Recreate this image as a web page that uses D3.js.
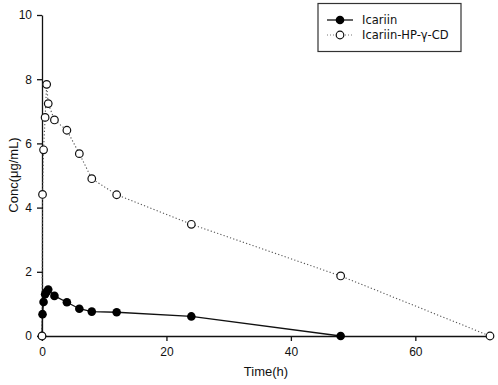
<!DOCTYPE html>
<html lang="en">
<head>
  <meta charset="UTF-8">
  <title>Icariin concentration-time</title>
  <script src="https://d3js.org/d3.v7.min.js"></script>
  <style>
    body { margin: 0; background: white; }
    svg { display: block; font-family: 'Liberation Sans', Arial, sans-serif; }
  </style>
</head>
<body>
  <svg id="chart" width="498" height="385"></svg>
  <script>
    // data
    var timeIcariin = [0, 0.083, 0.25, 0.5, 0.75, 1, 2, 4, 6, 8, 12, 24, 48];
    var concIcariin = [0, 0.68, 1.06, 1.30, 1.38, 1.45, 1.25, 1.05, 0.85, 0.76, 0.74, 0.61, 0];
    var timeCD = [0, 0.083, 0.25, 0.5, 0.75, 1, 2, 4, 6, 8, 12, 24, 48, 72];
    var concCD = [0, 4.41, 5.80, 6.81, 7.84, 7.24, 6.73, 6.41, 5.68, 4.90, 4.40, 3.48, 1.87, 0];
    var xTicks = [0, 20, 40, 60];
    var yTicks = [0, 2, 4, 6, 8, 10];
    var seriesNames = ["Icariin", "Icariin-HP-\u03b3-CD"];

    var svg = d3.select("#chart");
    var x = d3.scaleLinear().domain([0, 72]).range([42, 490]);
    var y = d3.scaleLinear().domain([0, 10]).range([336, 15]);

    // axes
    var xAxis = svg.append("g").attr("transform", "translate(0,336)")
      .call(d3.axisBottom(x).tickValues(xTicks).tickSize(5).tickSizeOuter(0).tickPadding(6));
    var yAxis = svg.append("g").attr("transform", "translate(42,0)")
      .call(d3.axisLeft(y).tickValues(yTicks).tickSize(5).tickSizeOuter(0).tickPadding(5));
    [xAxis, yAxis].forEach(function(a) {
      a.selectAll("path, line").attr("stroke", "#111").attr("stroke-width", 1.3);
      a.selectAll("text").attr("font-size", 12).attr("fill", "#111")
        .attr("font-family", "'Liberation Sans', Arial, sans-serif");
    });

    svg.append("text").attr("x", 266).attr("y", 376).attr("text-anchor", "middle")
      .attr("font-size", 13).attr("fill", "#111").text("Time(h)");
    svg.append("text").attr("transform", "translate(18,175) rotate(-90)")
      .attr("text-anchor", "middle").attr("font-size", 13).attr("fill", "#111")
      .text("Conc(\u03bcg/mL)");

    var line = d3.line().x(function(d) { return x(d[0]); }).y(function(d) { return y(d[1]); });
    var dataA = d3.zip(timeIcariin, concIcariin);
    var dataB = d3.zip(timeCD, concCD);

    svg.append("path").datum(dataB).attr("d", line).attr("fill", "none")
      .attr("stroke", "#555").attr("stroke-width", 1.1).attr("stroke-dasharray", "1.2,2.2");
    svg.append("path").datum(dataA).attr("d", line).attr("fill", "none")
      .attr("stroke", "#111").attr("stroke-width", 1.3);

    svg.append("g").selectAll("circle").data(dataA).join("circle")
      .attr("cx", function(d) { return x(d[0]); }).attr("cy", function(d) { return y(d[1]); })
      .attr("r", 4.3).attr("fill", "#000");
    svg.append("g").selectAll("circle").data(dataB).join("circle")
      .attr("cx", function(d) { return x(d[0]); }).attr("cy", function(d) { return y(d[1]); })
      .attr("r", 3.8).attr("fill", "white").attr("stroke", "#111").attr("stroke-width", 1.2);

    // legend
    var lg = svg.append("g");
    lg.append("rect").attr("x", 318).attr("y", 3.5).attr("width", 143).attr("height", 48)
      .attr("fill", "white").attr("stroke", "#333").attr("stroke-width", 1.2);
    lg.append("line").attr("x1", 327).attr("x2", 353).attr("y1", 20).attr("y2", 20)
      .attr("stroke", "#111").attr("stroke-width", 1.3);
    lg.append("circle").attr("cx", 340).attr("cy", 20).attr("r", 4.3).attr("fill", "#000");
    lg.append("line").attr("x1", 327).attr("x2", 353).attr("y1", 35).attr("y2", 35)
      .attr("stroke", "#777").attr("stroke-width", 1).attr("stroke-dasharray", "1,2");
    lg.append("circle").attr("cx", 340).attr("cy", 35).attr("r", 3.8)
      .attr("fill", "white").attr("stroke", "#111").attr("stroke-width", 1.2);
    lg.selectAll("text.leg").data(seriesNames).join("text").attr("class", "leg")
      .attr("x", 362).attr("y", function(d, i) { return 24 + i * 15; })
      .attr("font-size", 11.5).attr("fill", "#111")
      .attr("font-family", "'DejaVu Sans', Verdana, sans-serif")
      .text(function(d) { return d; });
  </script>
</body>
</html>
